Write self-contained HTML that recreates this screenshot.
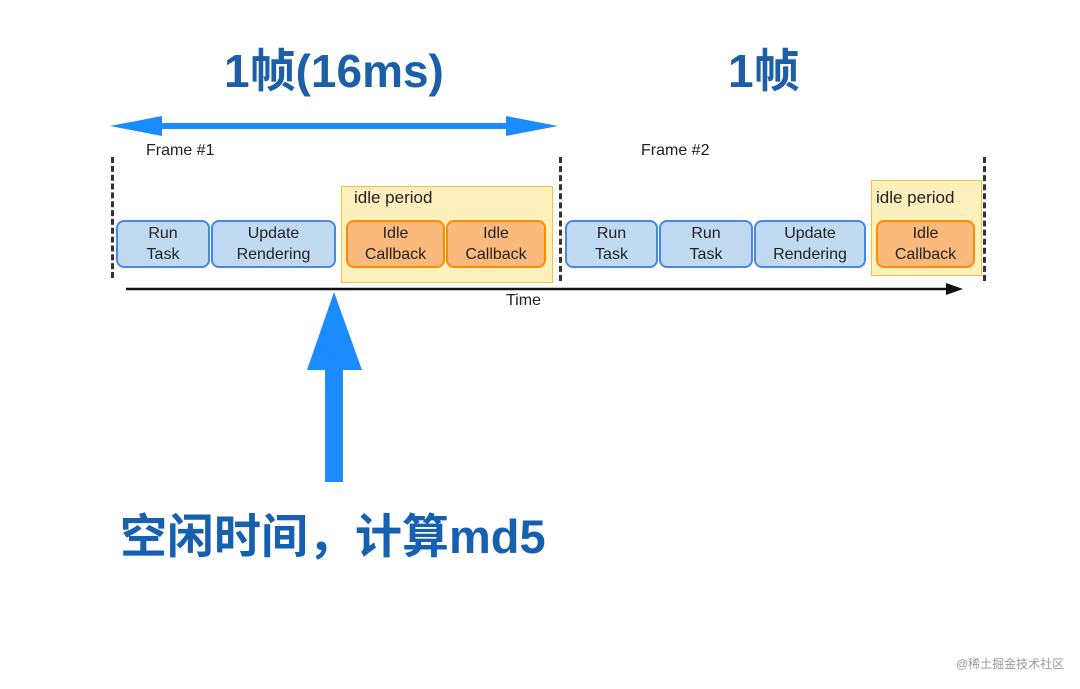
<!DOCTYPE html>
<html><head><meta charset="utf-8"><style>
body{margin:0;width:1080px;height:689px;background:#fff;position:relative;overflow:hidden;font-family:"Liberation Sans","Noto Sans CJK SC",sans-serif}
.a{position:absolute}
.b{position:absolute;box-sizing:border-box;border:2.5px solid #4a86e8;background:#c0dbf1;border-radius:8px;display:flex;align-items:center;justify-content:center;text-align:center;font-size:16px;line-height:21px;color:#222;top:220px;height:48px}
.o{border-color:#ff8c00;background:#fbb97c}
.y{position:absolute;box-sizing:border-box;border:1.5px solid #f6c142;background:#fdf0bd}
.d{position:absolute;width:0;border-left:3px dashed #333}
.t{position:absolute;font-size:16px;color:#222}
.h{position:absolute;font-weight:bold;color:#1a5fa8;font-size:46px;white-space:nowrap}
</style></head><body>
<div class="h" style="left:224px;top:35px">1帧(16ms)</div>
<div class="h" style="left:728px;top:35px">1帧</div>
<svg class="a" style="left:0;top:0" width="1080" height="689">
<line x1="130" y1="126" x2="540" y2="126" stroke="#1a8cff" stroke-width="6"/>
<polygon points="110,126 162,116 162,136" fill="#1a8cff"/>
<polygon points="558,126 506,116 506,136" fill="#1a8cff"/>
<line x1="126" y1="289" x2="950" y2="289" stroke="#111" stroke-width="2.5"/>
<polygon points="963,289 946,283 946,295" fill="#111"/>
<polygon points="334,292 307,370 362,370" fill="#1a8cff"/>
<rect x="325" y="368" width="18" height="114" fill="#1a8cff"/>
</svg>
<div class="d" style="left:111px;top:157px;height:121px"></div>
<div class="d" style="left:559px;top:157px;height:124px"></div>
<div class="d" style="left:983px;top:157px;height:124px"></div>
<div class="t" style="left:146px;top:142px">Frame #1</div>
<div class="t" style="left:641px;top:142px">Frame #2</div>
<div class="y" style="left:341px;top:186px;width:212px;height:97px"></div>
<div class="t" style="left:354px;top:188px;font-size:17px">idle period</div>
<div class="y" style="left:871px;top:180px;width:111px;height:96px"></div>
<div class="t" style="left:876px;top:188px;font-size:17px">idle period</div>
<div class="b" style="left:116px;width:94px">Run<br>Task</div>
<div class="b" style="left:211px;width:125px">Update<br>Rendering</div>
<div class="b o" style="left:346px;width:99px">Idle<br>Callback</div>
<div class="b o" style="left:446px;width:100px">Idle<br>Callback</div>
<div class="b" style="left:565px;width:93px">Run<br>Task</div>
<div class="b" style="left:659px;width:94px">Run<br>Task</div>
<div class="b" style="left:754px;width:112px">Update<br>Rendering</div>
<div class="b o" style="left:876px;width:99px">Idle<br>Callback</div>
<div class="t" style="left:506px;top:292px">Time</div>
<div class="h" style="left:120px;top:498px;color:#1560b0;font-size:47px">空闲时间，计算md5</div>
<div class="a" style="left:956px;top:655px;font-size:12px;color:#999">@稀土掘金技术社区</div>
</body></html>
